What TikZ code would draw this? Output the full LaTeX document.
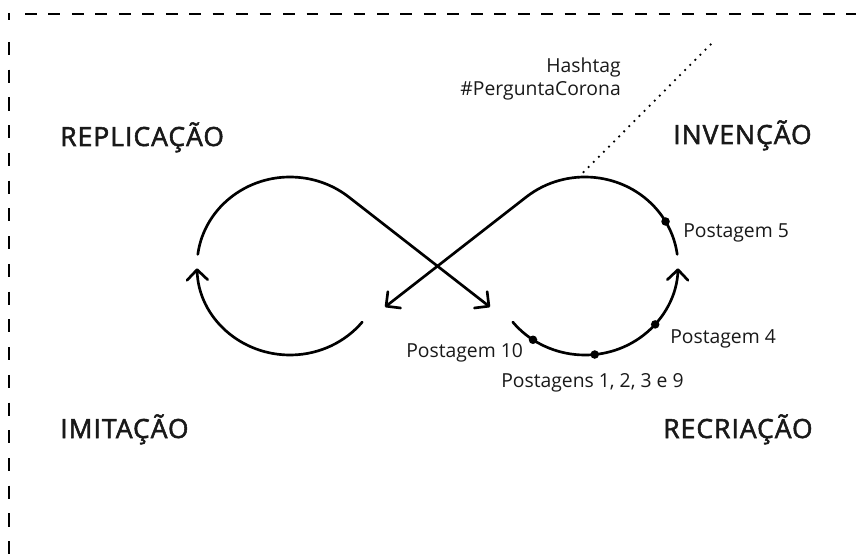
\documentclass[tikz,border=0pt]{standalone}
\usepackage{fontspec}
\setmainfont{Open Sans}
\newfontfamily\biglab[FakeBold=2,LetterSpace=4]{Open Sans}
\usetikzlibrary{arrows.meta}
\begin{document}
\begin{tikzpicture}[x=0.75pt,y=-0.75pt,
  curve/.style={line width=2pt, line cap=round, line join=round},
  barbtip/.tip={Straight Barb[angle=90:11pt, round]},
  small/.style={font=\fontsize{14.5}{17}\selectfont, inner sep=0pt, text=black!90},
  big/.style={font=\biglab\fontsize{19.8}{23}\selectfont, inner sep=0pt, text=black!90},
  postdot/.style={fill=black, circle, inner sep=0pt, minimum size=6.4pt},
  border/.style={line width=0.9pt, dash pattern=on 8.8pt off 8.8pt},
  hashline/.style={line width=1.9pt, line cap=round, dash pattern=on 0pt off 5.4pt}]
\useasboundingbox (0,0) rectangle (856,556);
% border
\draw[border] (25,14) -- (856,14);
\draw[line width=0.9pt] (9,13) -- (9,20);
\draw[line width=0.9pt, dash pattern=on 9.8pt off 11pt] (9,42) -- (9,556);
% centres and end points
\coordinate (Lc) at (290,266);
\coordinate (Rc) at (585,266);
\coordinate (A1) at (490,307);
\coordinate (A2) at (385,307);
% left loop, upper part and diagonal
\draw[curve, -barbtip] ([shift={(187.5:93 and 89)}]Lc) arc[start angle=187.5, end angle=309, x radius=93, y radius=89] -- (A1);
% left loop, lower part
\draw[curve, barbtip-] ([shift={(178.5:93 and 89)}]Lc) arc[start angle=178.5, end angle=39, x radius=93, y radius=89];
% right loop, diagonal and upper part
\draw[curve, barbtip-] (A2) -- ([shift={(231:93 and 89)}]Rc) arc[start angle=231, end angle=352.5, x radius=93, y radius=89];
% right loop, lower part
\draw[curve, -barbtip] ([shift={(141:93 and 89)}]Rc) arc[start angle=141, end angle=1.5, x radius=93, y radius=89];
% dots
\node[postdot] (p5) at ([shift={(330:93 and 89)}]Rc) {};
\node[postdot] (p4) at ([shift={(41:93 and 89)}]Rc) {};
\node[postdot] (p1) at ([shift={(84:93 and 89)}]Rc) {};
\node[postdot] (p10) at ([shift={(124:93 and 89)}]Rc) {};
\coordinate (top) at ([shift={(266:93 and 89)}]Rc);
\coordinate (hashend) at (713,42);
\draw[hashline] (top) -- (hashend);
% labels
\node[small, anchor=base west] (t5) at (683,237) {Postagem 5};
\node[small, anchor=base west] (t4) at (670,343) {Postagem 4};
\node[small, anchor=base west] (t10) at (406,357) {Postagem 10};
\node[small, anchor=base west] (t1) at (501,387) {Postagens 1, 2, 3 e 9};
\node[small, anchor=base east] (h1) at (621,73) {Hashtag};
\node[small, anchor=base east] (h2) at (621,96) {\#PerguntaCorona};
\node[big, anchor=base west] (rep) at (60,146) {REPLICAÇÃO};
\node[big, anchor=base west] (inv) at (673,144) {INVENÇÃO};
\node[big, anchor=base west] (imi) at (60,438) {IMITAÇÃO};
\node[big, anchor=base west] (rec) at (663,438) {RECRIAÇÃO};
\end{tikzpicture}
\end{document}
